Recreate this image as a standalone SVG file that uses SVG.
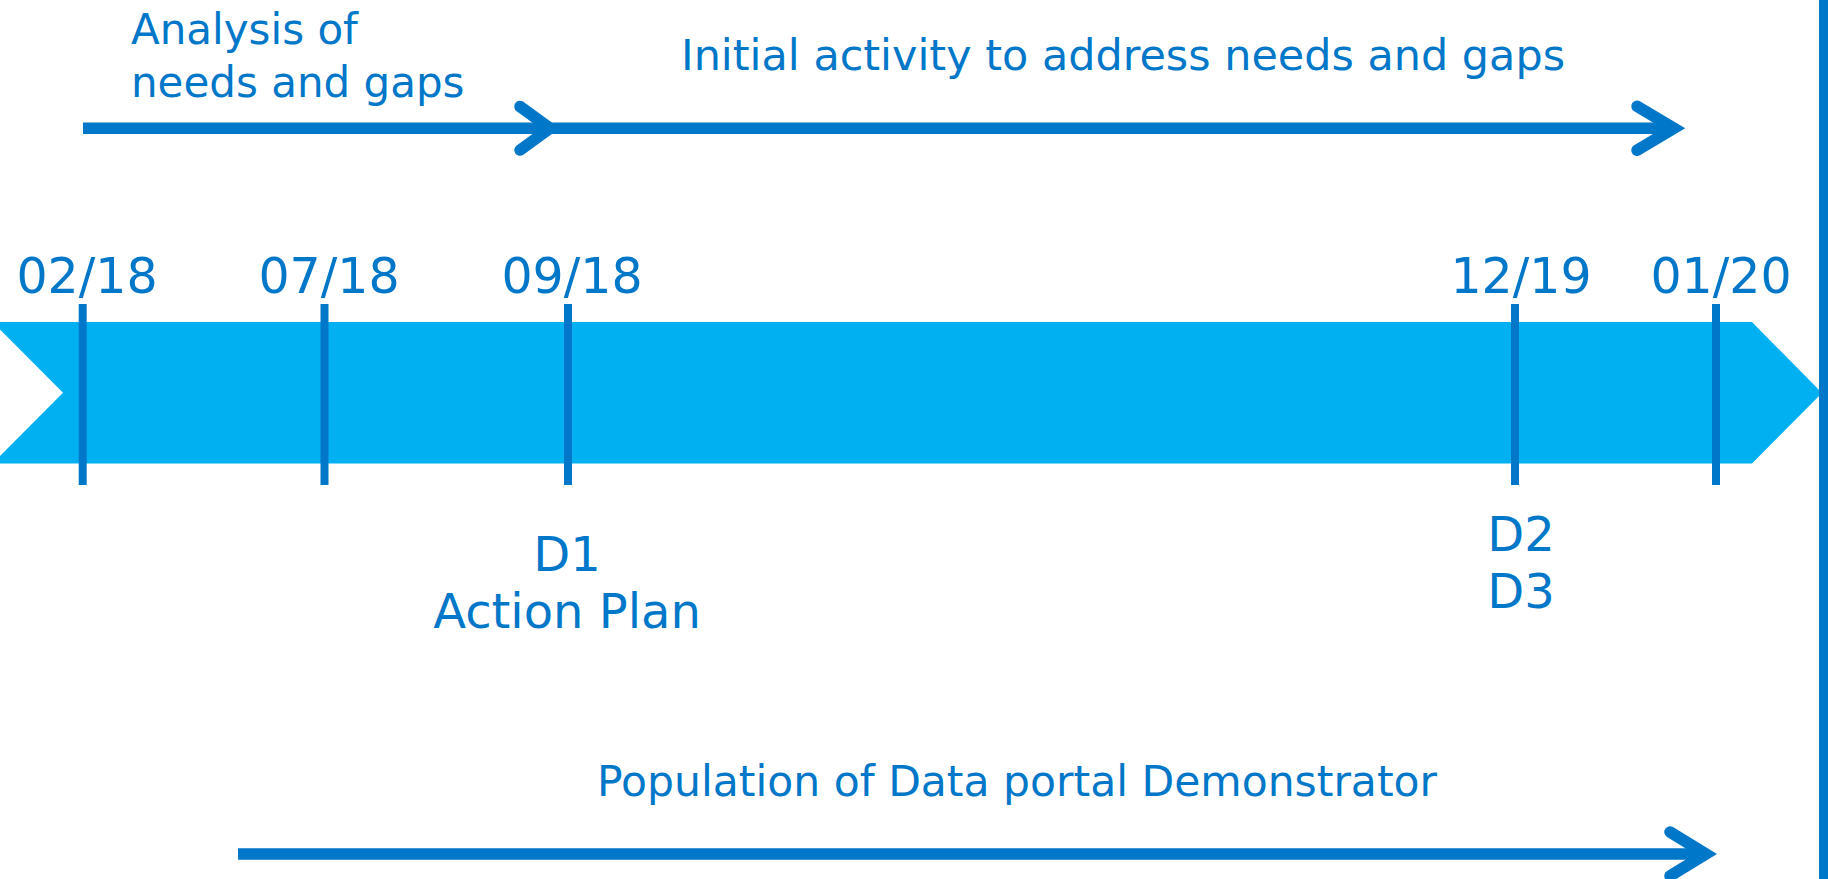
<svg xmlns="http://www.w3.org/2000/svg" width="1828" height="879" viewBox="0 0 1828 879">
<style>
.t{font-family:"DejaVu Sans",Verdana,sans-serif;fill:#0077C8}
.s42{font-size:42px}
.s48{font-size:48px}
.s49{font-size:49px}
.mid{text-anchor:middle}
.ln{stroke:#0077C8;stroke-width:11.5;fill:none}
.hd{stroke:#0077C8;stroke-width:11.5;fill:none;stroke-linecap:round;stroke-linejoin:miter}
.tick{fill:#0077C8}
</style>
<rect width="1828" height="879" fill="#ffffff"/>
<g id="timeline">
<polygon points="0,322 1752,322 1822,393 1752,463.5 0,463.5 0,456 63,392.7 0,329.5" fill="#00B0F0"/>
</g>
<g id="ticks">
<rect class="tick" x="78.7" y="304" width="8" height="181"/>
<rect class="tick" x="320.5" y="304" width="8" height="181"/>
<rect class="tick" x="564" y="304" width="8" height="181"/>
<rect class="tick" x="1511" y="304" width="8" height="181"/>
<rect class="tick" x="1712" y="304" width="8" height="181"/>
</g>
<g id="border">
<rect x="1819" y="0" width="9" height="879" fill="#0077C8"/>
</g>
<g id="connectors">
<line class="ln" x1="83" y1="128.3" x2="550" y2="128.3"/>
<path class="hd" d="M520,106.5 L550,128.3 L520,150.1"/>
<line class="ln" x1="550" y1="128.3" x2="1674" y2="128.3"/>
<path class="hd" d="M1637,106.3 L1674,128.3 L1637,150.3"/>
<line class="ln" x1="238" y1="854" x2="1706" y2="854"/>
<path class="hd" d="M1670,832 L1706,854 L1670,876"/>
</g>
<g id="label-analysis">
<text class="t s42" x="131" y="44">Analysis of</text>
<text class="t s42" x="131" y="97">needs and gaps</text>
</g>
<g id="label-initial">
<text class="t s42" x="681" y="70" textLength="884" lengthAdjust="spacingAndGlyphs">Initial activity to address needs and gaps</text>
</g>
<g id="dates">
<text class="t s49 mid" x="87" y="293">02/18</text>
<text class="t s49 mid" x="329" y="293">07/18</text>
<text class="t s49 mid" x="572" y="293">09/18</text>
<text class="t s49 mid" x="1521" y="293">12/19</text>
<text class="t s49 mid" x="1721" y="293">01/20</text>
</g>
<g id="label-d1">
<text class="t s48 mid" x="567" y="571">D1</text>
<text class="t s48 mid" x="567" y="628">Action Plan</text>
</g>
<g id="label-d2d3">
<text class="t s48 mid" x="1521" y="551">D2</text>
<text class="t s48 mid" x="1521" y="608">D3</text>
</g>
<g id="label-population">
<text class="t s42" x="597" y="796" textLength="840" lengthAdjust="spacingAndGlyphs">Population of Data portal Demonstrator</text>
</g>
</svg>
